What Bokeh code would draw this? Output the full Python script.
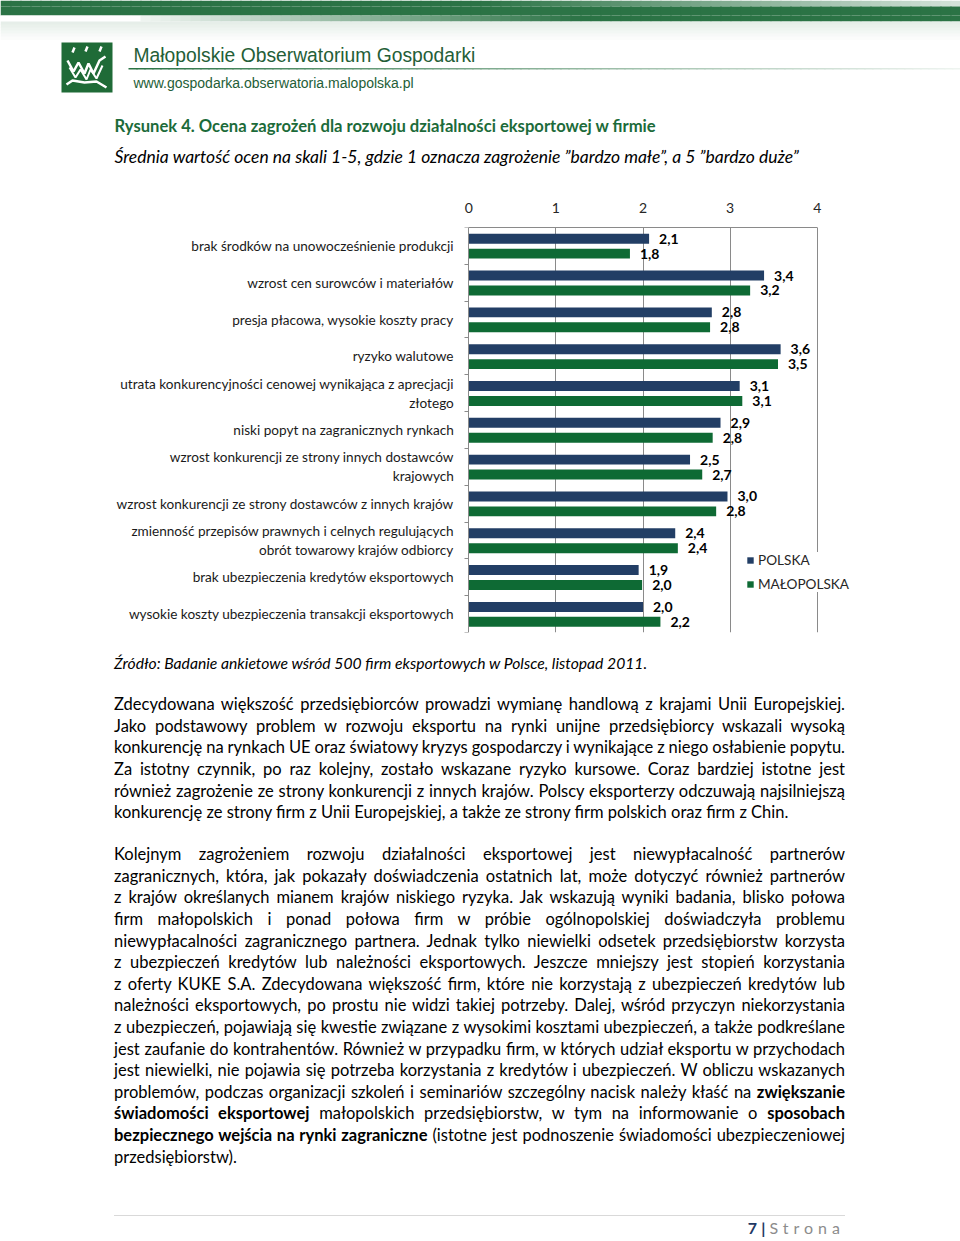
from bokeh.plotting import figure
from bokeh.models import ColumnDataSource, Range1d, FixedTicker, Legend, LegendItem, Div
from bokeh.layouts import column
from bokeh.transform import dodge
from bokeh.core.properties import value
from bokeh.embed import file_html
from bokeh.resources import INLINE

# ---------------- data ----------------
categories = [
    "brak środków na unowocześnienie produkcji",
    "wzrost cen surowców i materiałów",
    "presja płacowa, wysokie koszty pracy",
    "ryzyko walutowe",
    "utrata konkurencyjności cenowej wynikająca z aprecjacji\nzłotego",
    "niski popyt na zagranicznych rynkach",
    "wzrost konkurencji ze strony innych dostawców\nkrajowych",
    "wzrost konkurencji ze strony dostawców z innych krajów",
    "zmienność przepisów prawnych i celnych regulujących\nobrót towarowy krajów odbiorcy",
    "brak ubezpieczenia kredytów eksportowych",
    "wysokie koszty ubezpieczenia transakcji eksportowych",
]
polska = [2.07, 3.39, 2.79, 3.58, 3.11, 2.89, 2.54, 2.97, 2.37, 1.95, 2.00]
malopolska = [1.85, 3.23, 2.77, 3.55, 3.14, 2.80, 2.68, 2.84, 2.40, 1.99, 2.20]
polska_labels = ["2,1", "3,4", "2,8", "3,6", "3,1", "2,9", "2,5", "3,0", "2,4", "1,9", "2,0"]
malopolska_labels = ["1,8", "3,2", "2,8", "3,5", "3,1", "2,8", "2,7", "2,8", "2,4", "2,0", "2,2"]
series_names = ["POLSKA", "MAŁOPOLSKA"]
x_ticks = [0, 1, 2, 3, 4]

title_text = "Rysunek 4. Ocena zagrożeń dla rozwoju działalności eksportowej w firmie"
subtitle_text = "Średnia wartość ocen na skali 1-5, gdzie 1 oznacza zagrożenie \u201dbardzo małe\u201d, a 5 \u201dbardzo duże\u201d"
source_text = "Źródło: Badanie ankietowe wśród 500 firm eksportowych w Polsce, listopad 2011."

para1 = [
    "Zdecydowana większość przedsiębiorców prowadzi wymianę handlową z krajami Unii Europejskiej.",
    "Jako podstawowy problem w rozwoju eksportu na rynki unijne przedsiębiorcy wskazali wysoką",
    "konkurencję na rynkach UE oraz światowy kryzys gospodarczy i wynikające z niego osłabienie popytu.",
    "Za istotny czynnik, po raz kolejny, zostało wskazane ryzyko kursowe. Coraz bardziej istotne jest",
    "również zagrożenie ze strony konkurencji z innych krajów. Polscy eksporterzy odczuwają najsilniejszą",
    "konkurencję ze strony firm z Unii Europejskiej, a także ze strony firm polskich oraz firm z Chin.",
]
para2 = [
    "Kolejnym zagrożeniem rozwoju działalności eksportowej jest niewypłacalność partnerów",
    "zagranicznych, która, jak pokazały doświadczenia ostatnich lat, może dotyczyć również partnerów",
    "z krajów określanych mianem krajów niskiego ryzyka. Jak wskazują wyniki badania, blisko połowa",
    "firm małopolskich i ponad połowa firm w próbie ogólnopolskiej doświadczyła problemu",
    "niewypłacalności zagranicznego partnera. Jednak tylko niewielki odsetek przedsiębiorstw korzysta",
    "z ubezpieczeń kredytów lub należności eksportowych. Jeszcze mniejszy jest stopień korzystania",
    "z oferty KUKE S.A. Zdecydowana większość firm, które nie korzystają z ubezpieczeń kredytów lub",
    "należności eksportowych, po prostu nie widzi takiej potrzeby. Dalej, wśród przyczyn niekorzystania",
    "z ubezpieczeń, pojawiają się kwestie związane z wysokimi kosztami ubezpieczeń, a także podkreślane",
    "jest zaufanie do kontrahentów. Również w przypadku firm, w których udział eksportu w przychodach",
    "jest niewielki, nie pojawia się potrzeba korzystania z kredytów i ubezpieczeń. W obliczu wskazanych",
    "problemów, podczas organizacji szkoleń i seminariów szczególny nacisk należy kłaść na <b>zwiększanie</b>",
    "<b>świadomości eksportowej</b> małopolskich przedsiębiorstw, w tym na informowanie o <b>sposobach</b>",
    "<b>bezpiecznego wejścia na rynki zagraniczne</b> (istotne jest podnoszenie świadomości ubezpieczeniowej",
    "przedsiębiorstw).",
]

NAVY = "#223e65"
GREEN = "#0e6a34"
DKGREEN = (43, 115, 69)
GRID = "#8a8a8a"
FONT = "Lato"
W = 960


def mix(a):
    a = max(0.0, min(1.0, a))
    r, g, b = (round(255 * (1 - a) + c * a) for c in DKGREEN)
    return "#%02x%02x%02x" % (r, g, b)


# ---------------- header ----------------
header = figure(width=W, height=190, x_range=Range1d(0, W), y_range=Range1d(190, 0),
                x_axis_location=None, y_axis_location=None, output_backend="svg",
                toolbar_location=None, min_border=0, outline_line_color=None)
header.grid.visible = False


def alpha_a(x):
    return 1.0 if x < 480 else max(0.2, 1.0 - 0.8 * (x - 480) / 480.0)


def alpha_b(x):
    return 0.0 if x < 145 else min(1.0, 0.08 + 0.92 * (x - 145) / 435.0)


nseg = 96
seg = W / nseg
lefts = [k * seg for k in range(nseg)]
rights = [l + seg + 1 for l in lefts]
mids = [l + seg / 2 for l in lefts]
header.quad(left=lefts, right=rights, top=0, bottom=6, line_color=None,
            fill_color=[mix(alpha_a(x)) for x in mids])
header.quad(left=lefts, right=rights, top=6, bottom=15, line_color=None,
            fill_color=[mix(alpha_a(x) + (1 - alpha_a(x)) * alpha_b(x)) for x in mids])
header.quad(left=lefts, right=rights, top=15, bottom=21, line_color=None,
            fill_color=[mix(alpha_b(x)) for x in mids])
for k in range(6):
    header.quad(left=0, right=W, top=21 + 3 * k, bottom=24.5 + 3 * k,
                fill_color=mix(0.12 - 0.02 * k), line_color=None)

# logo
header.quad(left=61, right=112, top=42, bottom=92, fill_color="#1f6b37", line_color=None)
header.multi_line(xs=[[72, 74], [85, 87], [99, 101],
                      [67, 73, 78, 84, 88, 93, 99, 105],
                      [69, 75, 80, 86, 90, 96, 102],
                      [66, 72, 84, 96, 106]],
                  ys=[[52, 47], [51, 46], [51, 46],
                      [60, 71, 62, 73, 63, 73, 60, 56],
                      [67, 77, 69, 79, 69, 78, 65],
                      [84, 80, 82, 81, 87]],
                  line_color="white", line_width=[2.5, 2.5, 2.5, 2.5, 2, 2.5])
# fading line under the name
nl = 104
header.quad(left=[128 + 8 * k for k in range(nl)], right=[137 + 8 * k for k in range(nl)],
            top=67.5, bottom=69, line_color=None,
            fill_color=[mix(1.0 - 0.92 * k / (nl - 1)) for k in range(nl)])
header.text(x=[133], y=[55], text=["Małopolskie Obserwatorium Gospodarki"],
            text_font=value("Liberation Sans"), text_font_size="19.3px",
            text_color="#245e37", text_baseline="middle")
header.text(x=[133], y=[82], text=["www.gospodarka.obserwatoria.malopolska.pl"],
            text_font=value("Liberation Sans"), text_font_size="14px",
            text_color="#245e37", text_baseline="middle")
header.text(x=[114], y=[125], text=[title_text], text_font=value(FONT), text_font_style="bold",
            text_font_size="16.6px", text_color="#1c6b3a", text_baseline="middle")
header.text(x=[114], y=[156], text=[subtitle_text], text_font=value(FONT), text_font_style="italic",
            text_font_size="17.5px", text_color="#000000", text_baseline="middle")

# ---------------- chart ----------------
PX0 = 468.3     # page x of value 0
PXU = 87.1      # pixels per unit
chart = figure(width=W, height=455,
               x_range=Range1d(-PX0 / PXU, (W - PX0) / PXU), y_range=Range1d(10.5, -0.5),
               x_axis_location="above", y_axis_location="left", output_backend="svg",
               toolbar_location=None, min_border_left=0, min_border_right=0,
               min_border_top=37, min_border_bottom=13, outline_line_color=None)

src = ColumnDataSource(dict(idx=list(range(len(categories))), polska=polska, mp=malopolska,
                            pl_lab=polska_labels, mp_lab=malopolska_labels))

xa = chart.xaxis[0]
xa.ticker = FixedTicker(ticks=x_ticks)
xa.bounds = (0, 4)
xa.axis_line_color = GRID
xa.major_tick_out = 0
xa.major_tick_in = 0
xa.minor_tick_out = 0
xa.minor_tick_in = 0
xa.major_label_standoff = 15
xa.major_label_text_font = FONT
xa.major_label_text_font_size = "14px"
xa.major_label_text_color = "#262626"

ya = chart.yaxis[0]
ya.fixed_location = 0
ya.ticker = FixedTicker(ticks=list(range(len(categories))),
                        minor_ticks=[i - 0.5 for i in range(len(categories) + 1)])
ya.major_label_overrides = {i: c for i, c in enumerate(categories)}
ya.axis_line_color = GRID
ya.major_tick_out = 0
ya.major_tick_in = 0
ya.minor_tick_out = 4
ya.minor_tick_in = 0
ya.minor_tick_line_color = GRID
ya.major_label_standoff = 11
ya.major_label_text_font = FONT
ya.major_label_text_font_size = "13.6px"
ya.major_label_text_color = "#1a1a1a"

chart.xgrid.ticker = FixedTicker(ticks=[t for t in x_ticks if t > 0])
chart.xgrid.grid_line_color = GRID
chart.ygrid.visible = False

r1 = chart.hbar(y=dodge("idx", -0.195, range=chart.y_range), left=0, right="polska", height=0.27,
                fill_color=NAVY, line_color=None, source=src)
r2 = chart.hbar(y=dodge("idx", 0.21, range=chart.y_range), left=0, right="mp", height=0.27,
                fill_color=GREEN, line_color=None, source=src)
chart.text(x="polska", y=dodge("idx", -0.195, range=chart.y_range), text="pl_lab", source=src,
           x_offset=10, text_baseline="middle", text_font=value(FONT), text_font_style="bold",
           text_font_size="14px", text_color="#000000")
chart.text(x="mp", y=dodge("idx", 0.21, range=chart.y_range), text="mp_lab", source=src,
           x_offset=10, text_baseline="middle", text_font=value(FONT), text_font_style="bold",
           text_font_size="14px", text_color="#000000")

legend = Legend(items=[LegendItem(label=series_names[0], renderers=[r1]),
                       LegendItem(label=series_names[1], renderers=[r2])],
                location=(746, 40), glyph_width=8, glyph_height=8, label_height=16,
                label_standoff=4, spacing=8, padding=6, margin=0,
                border_line_color=None, background_fill_color="white", background_fill_alpha=1.0,
                label_text_font=FONT, label_text_font_size="13.6px", label_text_color="#262626")
chart.add_layout(legend)

# ---------------- body text ----------------
def lines_html(lines):
    out = []
    for i, t in enumerate(lines):
        if i == len(lines) - 1:
            style = "text-align:left;"
        else:
            style = "text-align:justify;text-align-last:justify;word-spacing:-3px;"
        out.append('<div style="height:21.6px;line-height:21.6px;white-space:normal;%s">%s</div>'
                   % (style, t))
    return "".join(out)

body_html = (
    '<div style="position:relative;width:960px;height:596px;font-family:Lato;color:#000;">'
    '<div style="position:absolute;left:114px;top:8.2px;width:760px;height:21.6px;line-height:21.6px;'
    'font-size:15.7px;font-style:italic;">%s</div>'
    '<div style="position:absolute;left:114px;top:49.2px;width:731px;font-size:16.5px;">%s</div>'
    '<div style="position:absolute;left:114px;top:199.2px;width:731px;font-size:16.5px;">%s</div>'
    '<div style="position:absolute;left:114px;top:570px;width:731px;height:1px;background:#d9d9d9;"></div>'
    '<div style="position:absolute;left:114px;top:575px;width:731px;height:16px;line-height:16px;'
    'text-align:right;font-size:16px;">'
    '<span style="color:#1f3864;font-weight:bold;">7</span>'
    ' <span style="color:#1f3864;font-weight:bold;">|</span> '
    '<span style="color:#8c8c8c;letter-spacing:5px;">Strona</span></div>'
    '</div>'
) % (source_text, lines_html(para1), lines_html(para2))

body = Div(text=body_html, width=W, height=596, margin=0, styles={"overflow": "visible"})

layout = column(header, chart, body, spacing=0)
open("out.html", "w").write(file_html(layout, INLINE))
